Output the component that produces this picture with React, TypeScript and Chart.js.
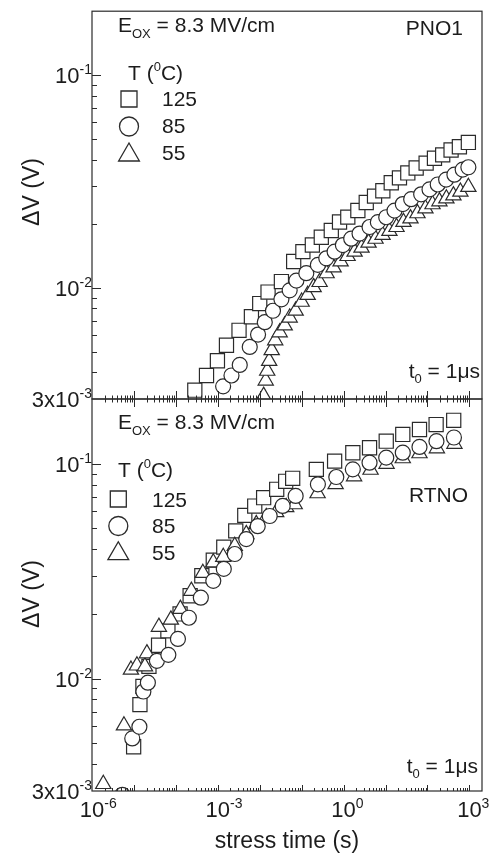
import React, { useEffect, useRef } from "react";
import { Chart, registerables } from "chart.js";

Chart.register(...registerables);

// ---------------- data (stress time in s, ΔV in V) ----------------
// PNO1
const pno1Time125 = [2.83e-4, 5.38e-4, 9.8e-4, 1.61e-3, 3.21e-3, 6.34e-3, 1.0e-2, 1.58e-2, 3.29e-2, 6.45e-2, 0.107, 0.18, 0.294, 0.509, 0.8, 1.26, 2.19, 3.47, 5.47, 8.63, 13.7, 21.5, 34, 53.8, 93, 147, 231, 366, 578, 946];
const pno1DV125 = [3.3e-3, 3.87e-3, 4.54e-3, 5.37e-3, 6.31e-3, 7.31e-3, 8.43e-3, 9.55e-3, 1.07e-2, 1.33e-2, 1.48e-2, 1.59e-2, 1.73e-2, 1.86e-2, 2.04e-2, 2.15e-2, 2.31e-2, 2.52e-2, 2.7e-2, 2.86e-2, 3.12e-2, 3.29e-2, 3.47e-2, 3.66e-2, 3.86e-2, 4.07e-2, 4.22e-2, 4.45e-2, 4.61e-2, 4.83e-2];

const pno1Time85 = [1.34e-3, 2.12e-3, 3.34e-3, 5.78e-3, 9.12e-3, 1.32e-2, 2.07e-2, 3.29e-2, 5.18e-2, 7.48e-2, 0.129, 0.244, 0.387, 0.611, 0.962, 1.52, 2.4, 4.16, 6.56, 10.4, 16.4, 25.8, 40.9, 70.8, 112, 176, 279, 440, 692, 946];
const pno1DV85 = [3.44e-3, 3.87e-3, 4.34e-3, 5.27e-3, 6.03e-3, 6.89e-3, 7.8e-3, 8.83e-3, 9.73e-3, 1.081e-2, 1.172e-2, 1.282e-2, 1.377e-2, 1.479e-2, 1.589e-2, 1.702e-2, 1.799e-2, 1.932e-2, 2.037e-2, 2.148e-2, 2.307e-2, 2.477e-2, 2.612e-2, 2.754e-2, 2.904e-2, 3.062e-2, 3.228e-2, 3.404e-2, 3.597e-2, 3.69e-2];

const pno1Time55 = [1.24e-2, 1.39e-2, 1.51e-2, 1.68e-2, 1.93e-2, 2.34e-2, 2.99e-2, 3.94e-2, 5.18e-2, 7.19e-2, 0.1, 0.139, 0.193, 0.268, 0.394, 0.578, 0.849, 1.245, 1.83, 2.68, 3.94, 5.78, 8.49, 12.4, 18.3, 26.8, 39.4, 57.8, 89.5, 132, 193, 283, 416, 611, 946];
const pno1DV55 = [3.1e-3, 3.66e-3, 4.07e-3, 4.53e-3, 5.09e-3, 5.66e-3, 6.17e-3, 6.65e-3, 7.24e-3, 7.8e-3, 8.59e-3, 9.25e-3, 1.007e-2, 1.064e-2, 1.17e-2, 1.247e-2, 1.33e-2, 1.41e-2, 1.479e-2, 1.543e-2, 1.63e-2, 1.7e-2, 1.774e-2, 1.85e-2, 1.93e-2, 2.04e-2, 2.12e-2, 2.24e-2, 2.36e-2, 2.47e-2, 2.55e-2, 2.63e-2, 2.72e-2, 2.83e-2, 2.98e-2];

// RTNO
const rtnoTime125 = [9.84e-6, 1.39e-5, 1.64e-5, 2.28e-5, 3.87e-5, 6.46e-5, 1.26e-4, 2.19e-4, 4.16e-4, 7.81e-4, 1.39e-3, 2.68e-3, 4.4e-3, 7.6e-3, 1.24e-2, 2.54e-2, 4.16e-2, 6.11e-2, 0.224, 0.611, 1.66, 4.16, 10.4, 25.8, 64.6, 161, 423];
const rtnoDV125 = [4.82e-3, 7.57e-3, 9.2e-3, 1.14e-2, 1.43e-2, 1.67e-2, 2.0e-2, 2.43e-2, 3.01e-2, 3.56e-2, 4.09e-2, 4.87e-2, 5.75e-2, 6.35e-2, 6.95e-2, 7.6e-2, 8.28e-2, 8.55e-2, 9.41e-2, 0.1028, 0.1125, 0.1186, 0.1273, 0.1368, 0.1443, 0.1521, 0.1592];

const rtnoTime85 = [5.3e-6, 9.12e-6, 1.35e-5, 1.68e-5, 2.15e-5, 3.53e-5, 6.62e-5, 1.12e-4, 2.04e-4, 3.94e-4, 7.81e-4, 1.39e-3, 2.54e-3, 4.78e-3, 8.96e-3, 1.73e-2, 3.53e-2, 7.19e-2, 0.244, 0.67, 1.66, 4.16, 10.4, 25.8, 64.6, 164, 428];
const rtnoDV85 = [2.88e-3, 5.27e-3, 5.97e-3, 8.71e-3, 9.57e-3, 1.21e-2, 1.29e-2, 1.53e-2, 1.92e-2, 2.38e-2, 2.85e-2, 3.24e-2, 3.8e-2, 4.46e-2, 5.12e-2, 5.71e-2, 6.36e-2, 7.08e-2, 8.02e-2, 8.67e-2, 9.41e-2, 0.1011, 0.1067, 0.1125, 0.1197, 0.1273, 0.1324];

const rtnoTime55 = [1.86e-6, 5.78e-6, 8.49e-6, 1.18e-5, 1.83e-5, 2.04e-5, 3.94e-5, 7.6e-5, 1.28e-4, 2.34e-4, 4.4e-4, 7.81e-4, 1.35e-3, 2.54e-3, 4.78e-3, 8.26e-3, 1.43e-2, 2.47e-2, 4.28e-2, 6.81e-2, 0.24, 0.646, 1.78, 4.4, 10.6, 25.8, 64.6, 168, 440];
const rtnoDV55 = [3.23e-3, 6.05e-3, 1.1e-2, 1.15e-2, 1.14e-2, 1.31e-2, 1.74e-2, 1.88e-2, 2.11e-2, 2.56e-2, 3.1e-2, 3.47e-2, 3.68e-2, 4.14e-2, 4.7e-2, 5.23e-2, 5.64e-2, 5.94e-2, 6.27e-2, 6.47e-2, 7.28e-2, 8.02e-2, 8.73e-2, 9.36e-2, 9.98e-2, 0.1059, 0.1117, 0.1178, 0.1236];

// axes / ticks / labels
const X_MIN = 1e-6;
const X_MAX = 2000;
const Y_MIN = 3e-3;
const Y_MAX = 0.2;
const xTickValues = [1e-6, 1e-3, 1, 1e3];
const xTickExponents = ["-6", "-3", "0", "3"];
const yTickValues = [3e-3, 1e-2, 1e-1];
const yTickBases = ["3x10", "10", "10"];
const yTickExponents = ["-3", "-2", "-1"];
const decadeExponents = [-6, -5, -4, -3, -2, -1, 0, 1, 2, 3];
const minorMultipliers = [1, 2, 3, 4, 5, 6, 7, 8, 9];
const tempLabels = ["125", "85", "55"];
const legendStyles = ["rect", "circle", "triangle"];

const FONT = '"Liberation Sans", Arial, Helvetica, sans-serif';
const INK = "#1c1c1c";
const LINE = "#2b2b2b";

type Part = { t: string; size: number; dy?: number };

function partsWidth(ctx: CanvasRenderingContext2D, parts: Part[]) {
  let w = 0;
  for (const p of parts) {
    ctx.font = `${p.size}px ${FONT}`;
    w += ctx.measureText(p.t).width;
  }
  return w;
}

function drawParts(ctx: CanvasRenderingContext2D, x: number, y: number, parts: Part[], align = "left") {
  const w = partsWidth(ctx, parts);
  let cx = align === "left" ? x : align === "right" ? x - w : x - w / 2;
  ctx.textAlign = "left";
  ctx.textBaseline = "alphabetic";
  ctx.fillStyle = INK;
  for (const p of parts) {
    ctx.font = `${p.size}px ${FONT}`;
    ctx.fillText(p.t, cx, y + (p.dy || 0));
    cx += ctx.measureText(p.t).width;
  }
}

function legendMarker(ctx: CanvasRenderingContext2D, style: string, cx: number, cy: number) {
  ctx.beginPath();
  if (style === "rect") ctx.rect(cx - 8, cy - 8, 16, 16);
  else if (style === "circle") ctx.arc(cx, cy, 9.5, 0, Math.PI * 2);
  else {
    const r = 12;
    ctx.moveTo(cx, cy - r);
    ctx.lineTo(cx + r * 0.866, cy + r / 2);
    ctx.lineTo(cx - r * 0.866, cy + r / 2);
    ctx.closePath();
  }
  ctx.fillStyle = "#fff";
  ctx.fill();
  ctx.strokeStyle = LINE;
  ctx.lineWidth = 1.3;
  ctx.stroke();
}

type PanelCfg = {
  name: string; nameX: number; nameY: number;
  eoxX: number; eoxY: number;
  headX: number; headY: number;
  legendX: number; legendY: number[]; legendTextX: number; legendTextY: number[];
  t0X: number; t0Y: number;
  titleY: number;
  crossTicks: boolean; xLabels: boolean;
  padTop: number; padBottom: number;
  t125: number[]; v125: number[]; t85: number[]; v85: number[]; t55: number[]; v55: number[];
};

const TOP: PanelCfg = {
  name: "PNO1", nameX: 463, nameY: 35,
  eoxX: 118, eoxY: 32,
  headX: 128, headY: 80,
  legendX: 129, legendY: [99, 126.5, 155], legendTextX: 162, legendTextY: [106, 133.3, 160],
  t0X: 480, t0Y: 378,
  titleY: 192,
  crossTicks: true, xLabels: false,
  padTop: 5, padBottom: 858 - 399,
  t125: pno1Time125, v125: pno1DV125, t85: pno1Time85, v85: pno1DV85, t55: pno1Time55, v55: pno1DV55,
};

const BOTTOM: PanelCfg = {
  name: "RTNO", nameX: 468, nameY: 501.5,
  eoxX: 118, eoxY: 429,
  headX: 118, headY: 477,
  legendX: 118.3, legendY: [499, 526, 553.7], legendTextX: 152, legendTextY: [506.7, 533.3, 560],
  t0X: 478, t0Y: 773,
  titleY: 594,
  crossTicks: false, xLabels: true,
  padTop: 399, padBottom: 858 - 791,
  t125: rtnoTime125, v125: rtnoDV125, t85: rtnoTime85, v85: rtnoDV85, t55: rtnoTime55, v55: rtnoDV55,
};

function zip(t: number[], v: number[]) {
  return t.map((x, i) => ({ x, y: v[i] }));
}

function makeDeco(cfg: PanelCfg) {
  return {
    id: "deco",
    afterDatasetsDraw(chart: any) {
      const ctx: CanvasRenderingContext2D = chart.ctx;
      const a = chart.chartArea;
      const xs = chart.scales.x;
      const ys = chart.scales.y;
      ctx.save();
      ctx.strokeStyle = LINE;
      ctx.lineWidth = 1.2;
      ctx.strokeRect(a.left, a.top, a.right - a.left, a.bottom - a.top);

      const seg = (x1: number, y1: number, x2: number, y2: number) => {
        ctx.beginPath();
        ctx.moveTo(x1, y1);
        ctx.lineTo(x2, y2);
        ctx.stroke();
      };
      ctx.lineWidth = 1;
      // y ticks (inward)
      for (const e of decadeExponents) {
        for (const m of minorMultipliers) {
          const v = m * Math.pow(10, e);
          if (v <= Y_MIN * 1.001 || v >= Y_MAX * 0.999) continue;
          const y = Math.round(ys.getPixelForValue(v)) + 0.5;
          seg(a.left, y, a.left + (m === 1 ? 9 : 5), y);
        }
      }
      // x ticks
      for (const e of decadeExponents) {
        for (const m of minorMultipliers) {
          const v = m * Math.pow(10, e);
          if (v <= X_MIN * 1.001 || v >= X_MAX * 0.999) continue;
          const x = Math.round(xs.getPixelForValue(v)) + 0.5;
          const major = m === 1;
          if (cfg.crossTicks) {
            const h = major ? 8 : 3.5;
            seg(x, a.bottom - h, x, a.bottom + h);
          } else {
            const h = major ? 6 : 3;
            seg(x, a.bottom, x, a.bottom - h);
          }
        }
      }

      // y tick labels
      yTickValues.forEach((v, i) => {
        const y = ys.getPixelForValue(v);
        drawParts(ctx, a.left, y + 8, [
          { t: yTickBases[i], size: 22 },
          { t: yTickExponents[i], size: 14, dy: -9 },
        ], "right");
      });

      // x tick labels
      if (cfg.xLabels) {
        xTickValues.forEach((v, i) => {
          const x = xs.getPixelForValue(v);
          ctx.font = `22px ${FONT}`;
          const w = ctx.measureText("10").width;
          drawParts(ctx, x - w / 2, a.bottom + 26, [
            { t: "10", size: 22 },
            { t: xTickExponents[i], size: 14, dy: -9 },
          ], "left");
        });
        ctx.font = `23px ${FONT}`;
        ctx.fillStyle = INK;
        ctx.textAlign = "center";
        ctx.fillText("stress time (s)", (a.left + a.right) / 2, 848);
      }

      // y title
      ctx.save();
      ctx.translate(39, cfg.titleY);
      ctx.rotate(-Math.PI / 2);
      ctx.font = `23px ${FONT}`;
      ctx.fillStyle = INK;
      ctx.textAlign = "center";
      ctx.textBaseline = "alphabetic";
      ctx.fillText("ΔV (V)", 0, 0);
      ctx.restore();

      // annotations
      drawParts(ctx, cfg.eoxX, cfg.eoxY, [
        { t: "E", size: 21 },
        { t: "OX", size: 13, dy: 6 },
        { t: " = 8.3 MV/cm", size: 21 },
      ], "left");
      drawParts(ctx, cfg.nameX, cfg.nameY, [{ t: cfg.name, size: 21 }], "right");
      drawParts(ctx, cfg.headX, cfg.headY, [
        { t: "T (", size: 21 },
        { t: "0", size: 13, dy: -9 },
        { t: "C)", size: 21 },
      ], "left");
      legendStyles.forEach((s, i) => {
        legendMarker(ctx, s, cfg.legendX, cfg.legendY[i]);
        drawParts(ctx, cfg.legendTextX, cfg.legendTextY[i], [{ t: tempLabels[i], size: 21 }], "left");
      });
      drawParts(ctx, cfg.t0X, cfg.t0Y, [
        { t: "t", size: 21 },
        { t: "0", size: 13, dy: 5 },
        { t: " = 1μs", size: 21 },
      ], "right");
      ctx.restore();
    },
  };
}

function makeChart(canvas: HTMLCanvasElement, cfg: PanelCfg) {
  const common = {
    pointBackgroundColor: "#ffffff",
    pointBorderColor: LINE,
    pointBorderWidth: 1.2,
    showLine: false,
  };
  return new Chart(canvas, {
    type: "scatter",
    data: {
      datasets: [
        { ...common, label: "85", data: zip(cfg.t85, cfg.v85), pointStyle: "circle", pointRadius: 7.5, order: 0 },
        { ...common, label: "55", data: zip(cfg.t55, cfg.v55), pointStyle: "triangle", pointRadius: 8.8, order: 1 },
        { ...common, label: "125", data: zip(cfg.t125, cfg.v125), pointStyle: "rect", pointRadius: 10, order: 2 },
      ],
    },
    options: {
      responsive: false,
      maintainAspectRatio: false,
      devicePixelRatio: 1,
      animation: false,
      events: [],
      layout: { padding: { left: 92, right: 14, top: cfg.padTop, bottom: cfg.padBottom } },
      plugins: { legend: { display: false }, tooltip: { enabled: false } },
      scales: {
        x: { type: "logarithmic", min: X_MIN, max: X_MAX, display: false },
        y: { type: "logarithmic", min: Y_MIN, max: Y_MAX, display: false },
      },
    } as any,
    plugins: [makeDeco(cfg) as any],
  });
}

export default function App() {
  const topRef = useRef<HTMLCanvasElement>(null);
  const botRef = useRef<HTMLCanvasElement>(null);
  useEffect(() => {
    const c1 = makeChart(topRef.current as HTMLCanvasElement, TOP);
    const c2 = makeChart(botRef.current as HTMLCanvasElement, BOTTOM);
    return () => {
      c1.destroy();
      c2.destroy();
    };
  }, []);
  const cs: React.CSSProperties = { position: "absolute", left: 0, top: 0, width: 496, height: 858 };
  return (
    <div style={{ position: "absolute", left: 0, top: 0, width: 496, height: 858, background: "#fff" }}>
      <canvas ref={topRef} width={496} height={858} style={cs} />
      <canvas ref={botRef} width={496} height={858} style={cs} />
    </div>
  );
}
